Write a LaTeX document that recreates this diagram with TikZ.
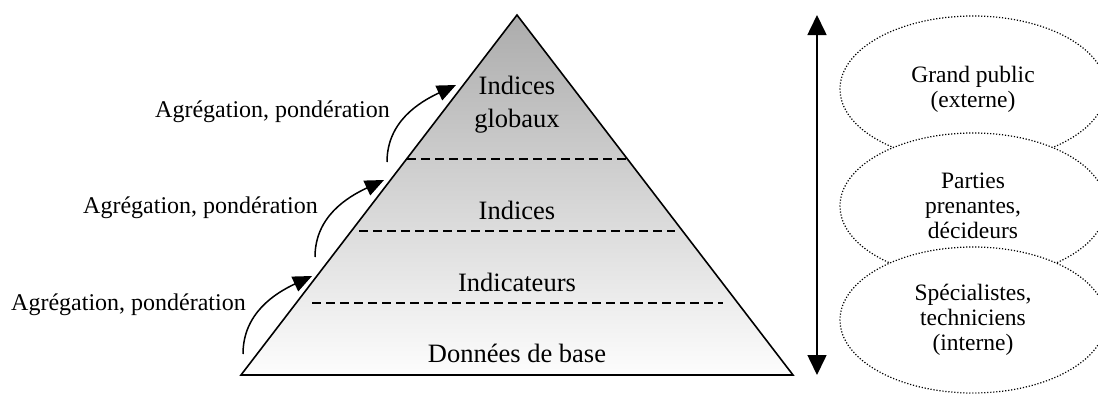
\documentclass[tikz,border=0pt]{standalone}
\usepackage{fontspec}
\setmainfont{Liberation Serif}
\usetikzlibrary{arrows.meta,shapes.geometric}
\definecolor{pyrtop}{RGB}{172,172,172}
\definecolor{pyrbot}{RGB}{253,253,253}
\tikzset{
  pyrtext/.style={font=\fontsize{26.5}{33}\selectfont, align=center, inner sep=0pt},
  sidetext/.style={font=\fontsize{24}{26}\selectfont, inner sep=0pt, anchor=east},
  levelline/.style={line width=1.5pt, dash pattern=on 9pt off 5pt},
  aggarrow/.style={line width=1.5pt, -{Triangle[length=19pt,width=16pt]}},
  audience/.style={ellipse, draw, fill=white, line width=1.2pt, dash pattern=on 1.2pt off 1.8pt,
    minimum width=266pt, minimum height=146pt, inner sep=0pt, align=center,
    font=\fontsize{23.5}{25}\selectfont},
}
\begin{document}
\begin{tikzpicture}[x=1pt,y=-1pt]
\useasboundingbox (0,0) rectangle (1098,394);
% pyramid
\coordinate (apex) at (517,15);
\coordinate (bl) at (241,375);
\coordinate (br) at (793,375);
\shade[top color=pyrtop, bottom color=pyrbot] (apex) -- (bl) -- (br) -- cycle;
\draw[line width=1.6pt, line join=miter] (apex) -- (bl) -- (br) -- cycle;
% level lines
\coordinate (d1a) at (407,159); \coordinate (d1b) at (627,159);
\coordinate (d2a) at (359,231); \coordinate (d2b) at (675,231);
\coordinate (d3a) at (312,303); \coordinate (d3b) at (723,303);
\draw[levelline] (d1a) -- (d1b);
\draw[levelline] (d2a) -- (d2b);
\draw[levelline] (d3a) -- (d3b);
% pyramid texts
\node[pyrtext] (globaux) at (517,105) {Indices\\globaux};
\node[pyrtext] (indices) at (517,210) {Indices};
\node[pyrtext] (indicateurs) at (517,282) {Indicateurs};
\node[pyrtext] (donnees) at (517,353) {Données de base};
% side labels
\node[sidetext] (lab1) at (390,112) {Agrégation, pondération};
\node[sidetext] (lab2) at (318,208) {Agrégation, pondération};
\node[sidetext] (lab3) at (246,305) {Agrégation, pondération};
% aggregation arrows
\coordinate (s1) at (243,354); \coordinate (e1) at (312,276);
\coordinate (s2) at (315,257); \coordinate (e2) at (384,180);
\coordinate (s3) at (387,162); \coordinate (e3) at (456,85);
\draw[aggarrow] (s1) to[out=90,in=205] (e1);
\draw[aggarrow] (s2) to[out=90,in=205] (e2);
\draw[aggarrow] (s3) to[out=90,in=205] (e3);
% vertical double arrow
\coordinate (vt) at (817,15);
\coordinate (vb) at (817,375);
\draw[line width=1.6pt, {Triangle[length=20pt,width=19pt]}-{Triangle[length=20pt,width=19pt]}] (vt) -- (vb);
% audiences
\node[audience] (public) at (973,89) {Grand public\\(externe)};
\node[audience] (parties) at (973,206) {Parties\\prenantes,\\décideurs};
\node[audience] (specialistes) at (973,320) {Spécialistes,\\techniciens\\(interne)};
\end{tikzpicture}
\end{document}
